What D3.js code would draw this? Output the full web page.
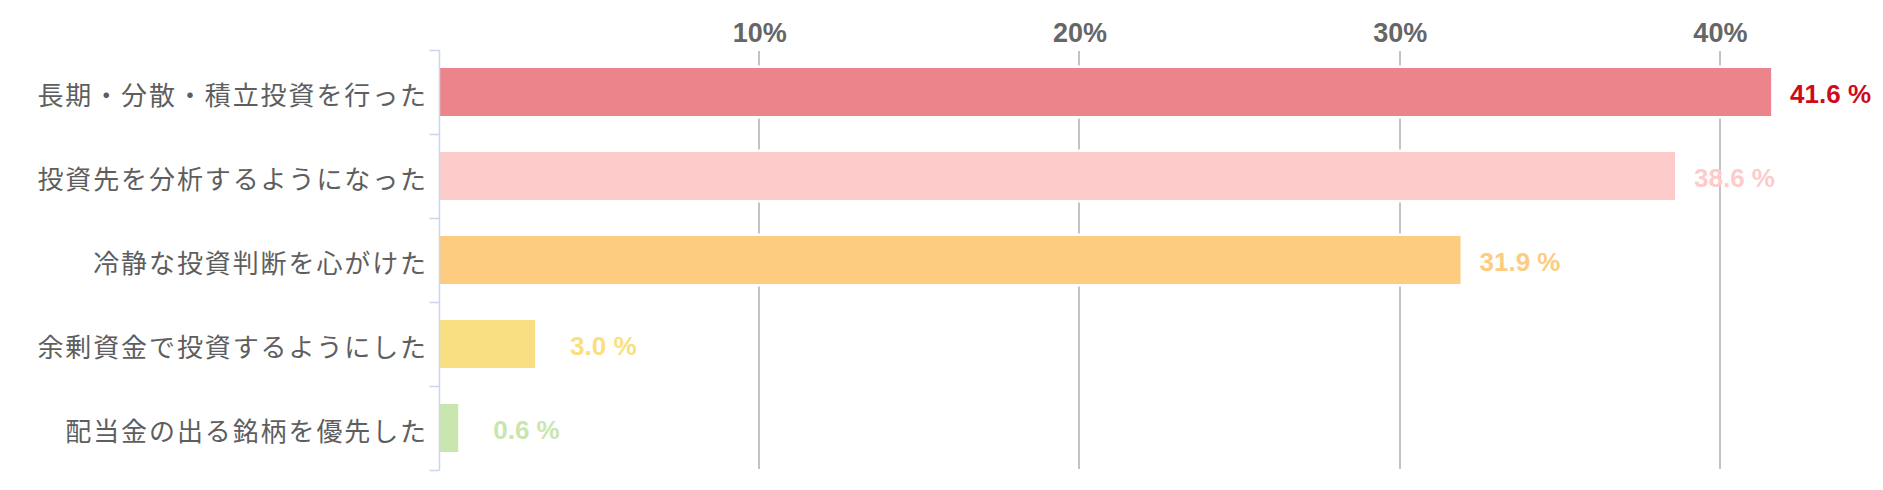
<!DOCTYPE html>
<html>
<head>
<meta charset="utf-8">
<script src="https://cdn.jsdelivr.net/npm/d3@7"></script>
<style>
  html, body { margin: 0; padding: 0; background: #fff; }
  svg { display: block; }
</style>
</head>
<body>
<svg id="chart" width="1883" height="490"></svg>
<script>
// ---- data ----
const categories = [
  "長期・分散・積立投資を行った",
  "投資先を分析するようになった",
  "冷静な投資判断を心がけた",
  "余剰資金で投資するようにした",
  "配当金の出る銘柄を優先した"
];
const values = [41.6, 38.6, 31.9, 3.0, 0.6];
const valueLabels = ["41.6 %", "38.6 %", "31.9 %", "3.0 %", "0.6 %"];
const tickValues = [10, 20, 30, 40];
const tickLabels = ["10%", "20%", "30%", "40%"];

// ---- style ----
const barColors = ["#eb858b", "#fecbcb", "#fecc80", "#f9df81", "#c9e5b0"];
const labelColors = ["#d00a1a", "#fecbcb", "#fecc80", "#f9df81", "#c9e5b0"];

const svg = d3.select("#chart");
const x = d3.scaleLinear().domain([0, 45]).range([439, 1880]);
const y = d3.scaleBand().domain(categories).range([50, 470]).padding(0);
const barH = 48;

// gridlines
svg.append("g").selectAll("line").data(tickValues).join("line")
  .attr("x1", d => Math.round(x(d))).attr("x2", d => Math.round(x(d)))
  .attr("y1", 51).attr("y2", 469)
  .attr("stroke", "#c3c3c3").attr("stroke-width", 2);

// x tick labels (top)
const xAxis = d3.axisTop(x).tickValues(tickValues)
  .tickFormat((d, i) => tickLabels[i]).tickSize(0).tickPadding(0);
const gx = svg.append("g").attr("transform", "translate(0,42)").call(xAxis);
gx.select(".domain").remove();
gx.selectAll("text")
  .attr("dy", "0")
  .attr("fill", "#666")
  .style("font-family", "'Liberation Sans', Arial, sans-serif")
  .style("font-weight", "bold")
  .style("font-size", "27px");

// bars
svg.append("g").selectAll("rect").data(values).join("rect")
  .attr("x", x(0) + 0.5)
  .attr("y", (d, i) => y(categories[i]) + (y.bandwidth() - barH) / 2)
  .attr("width", d => x(d) - x(0) - 0.5)
  .attr("height", barH)
  .attr("fill", (d, i) => barColors[i])
  .attr("stroke", "#fff")
  .attr("stroke-width", 5)
  .style("paint-order", "stroke");

// y axis line and boundary ticks
const bounds = categories.map(c => y(c)).concat([y.range()[1]]);
const gy = svg.append("g");
gy.append("line")
  .attr("x1", 439.5).attr("x2", 439.5)
  .attr("y1", y.range()[0]).attr("y2", y.range()[1])
  .attr("stroke", "#ccd6eb").attr("stroke-width", 1.5);
gy.selectAll("line.tick").data(bounds).join("line")
  .attr("class", "tick")
  .attr("x1", 429.5).attr("x2", 439.5)
  .attr("y1", d => Math.round(d) + 0.5).attr("y2", d => Math.round(d) + 0.5)
  .attr("stroke", "#ccd6eb").attr("stroke-width", 1.5);

// category labels
const yAxis = d3.axisLeft(y).tickSize(0).tickPadding(0);
const gyl = svg.append("g").attr("transform", "translate(428,0)").call(yAxis);
gyl.select(".domain").remove();
gyl.selectAll("text")
  .attr("dy", "13")
  .attr("fill", "#5e5e5e")
  .style("font-family", "'Noto Sans CJK JP', sans-serif")
  .style("font-size", "26px")
  .style("letter-spacing", "1.9px");

// value labels
svg.append("g").selectAll("text").data(values).join("text")
  .attr("x", d => x(d) + (d < 5 ? 35 : 19))
  .attr("y", (d, i) => y(categories[i]) + y.bandwidth() / 2 + 10.5)
  .attr("fill", (d, i) => labelColors[i])
  .style("font-family", "'Liberation Sans', Arial, sans-serif")
  .style("font-weight", "bold")
  .style("font-size", "26px")
  .text((d, i) => valueLabels[i]);
</script>
</body>
</html>
